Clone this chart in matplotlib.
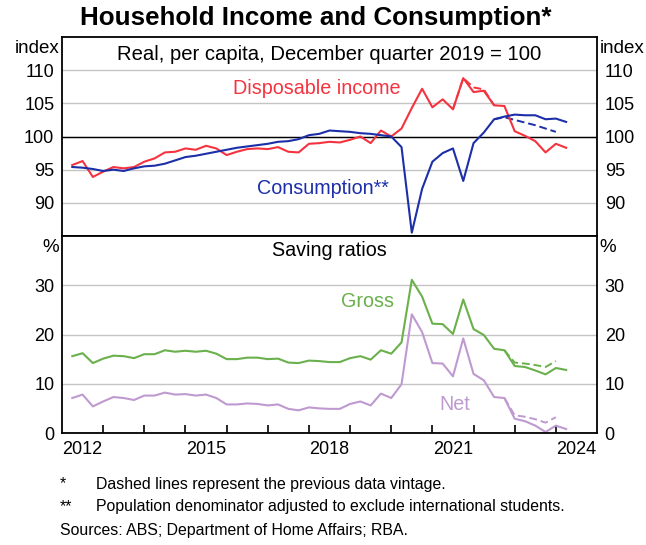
import numpy as np
import pandas as pd
import matplotlib
matplotlib.use("Agg")
import matplotlib.pyplot as plt

plt.rcParams['font.family'] = ['Liberation Sans', 'DejaVu Sans']

# quarterly data, March quarter 2012 to March quarter 2024
start_q = "2012Q1"
end_q = "2024Q1"

income = [95.7, 96.3, 93.9, 94.7, 95.4, 95.2, 95.4, 96.2, 96.7, 97.6, 97.7, 98.2,
          98.0, 98.6, 98.2, 97.2, 97.7, 98.1, 98.2, 98.1, 98.4, 97.7, 97.6, 98.9,
          99.0, 99.2, 99.1, 99.5, 100.0, 99.0, 100.9, 100.0, 101.2, 104.3, 107.2, 104.4,
          105.6, 104.1, 108.8, 106.7, 106.9, 104.7, 104.6, 100.8, 100.1, 99.3, 97.6, 98.9,
          98.3]
consumption = [95.4, 95.3, 95.1, 94.8, 95.0, 94.8, 95.2, 95.5, 95.6, 95.9, 96.4, 96.9,
               97.1, 97.4, 97.7, 98.0, 98.3, 98.5, 98.7, 98.9, 99.2, 99.3, 99.6, 100.2,
               100.4, 100.9, 100.8, 100.7, 100.5, 100.4, 100.2, 100.0, 98.4, 85.5, 92.1, 96.2,
               97.5, 98.2, 93.3, 99.0, 100.6, 102.6, 103.0, 103.3, 103.2, 103.2, 102.6, 102.7,
               102.2]
gross = [15.6, 16.2, 14.2, 15.1, 15.7, 15.6, 15.2, 16.0, 16.0, 16.8, 16.5, 16.7,
         16.5, 16.7, 16.1, 15.0, 15.0, 15.3, 15.3, 15.0, 15.1, 14.3, 14.2, 14.7,
         14.6, 14.4, 14.4, 15.2, 15.6, 14.9, 16.8, 16.1, 18.4, 31.1, 27.7, 22.2,
         22.1, 20.1, 27.1, 21.1, 19.9, 17.1, 16.8, 13.6, 13.4, 12.7, 11.9, 13.2,
         12.8]
net = [7.1, 7.8, 5.4, 6.4, 7.3, 7.1, 6.7, 7.6, 7.6, 8.2, 7.8, 7.9,
       7.6, 7.8, 7.1, 5.8, 5.8, 6.0, 5.9, 5.6, 5.8, 4.9, 4.6, 5.2,
       5.0, 4.9, 4.9, 5.9, 6.4, 5.6, 8.0, 7.1, 9.9, 24.1, 20.5, 14.2,
       14.1, 11.5, 19.2, 12.0, 10.7, 7.3, 7.1, 2.9, 2.4, 1.5, 0.2, 1.5,
       0.8]

# previous data vintage (dashed)
income_old_start = "2021Q2"
income_old = [104.1, 108.8, 107.4, 107.1, 104.7]
cons_old_start = "2022Q2"
cons_old = [102.6, 102.9, 102.5, 102.1, 101.7, 101.2, 100.7]
saving_old_start = "2022Q3"
gross_old = [16.8, 14.3, 14.1, 13.8, 13.4, 14.6]
net_old = [7.1, 3.6, 3.3, 2.8, 2.1, 3.2]

year_labels = ["2012", "2015", "2018", "2021", "2024"]

RED = "#f5333f"
BLUE = "#1c2fa8"
GREEN = "#6ab04c"
PURPLE = "#bf9ad0"
GRID = "#c4c4c4"


def qdates(first, n):
    # quarters plotted at the end of each quarter, as decimal years
    p = pd.period_range(first, periods=n, freq="Q")
    return p.year + p.quarter / 4.0


n = len(pd.period_range(start_q, end_q, freq="Q"))
x = qdates(start_q, n)

fig = plt.figure(figsize=(6.46, 5.45), dpi=100)
W, H = 646.0, 545.0
left, right = 62 / W, 597 / W
ax1 = fig.add_axes([left, (H - 236) / H, right - left, 199 / H])
ax2 = fig.add_axes([left, (H - 433) / H, right - left, 197 / H])

fs = 13
fs_txt = 14.2
for ax, lo, hi, ticks, unit in [(ax1, 85, 115, [90, 95, 100, 105, 110], "index"),
                                 (ax2, 0, 40, [0, 10, 20, 30], "%")]:
    ax.set_xlim(2012, 2025)
    ax.set_ylim(lo, hi)
    ax.set_yticks(ticks)
    ax.tick_params(axis="y", left=False, right=False, labelleft=True, labelright=True,
                   labelsize=fs, pad=2)
    ax.grid(axis="y", color=GRID, lw=1)
    ax.set_axisbelow(True)
    for s in ax.spines.values():
        s.set_linewidth(1.3)
    ax.text(-0.005, 0.985, unit, transform=ax.transAxes, ha="right", va="top", fontsize=fs + 0.5)
    ax.text(1.005, 0.985, unit, transform=ax.transAxes, ha="left", va="top", fontsize=fs + 0.5)

ax1.axhline(100, color="black", lw=1)
ax1.tick_params(axis="x", bottom=False, labelbottom=False)

ax1.plot(qdates(income_old_start, len(income_old)), income_old, color=RED, lw=1.4, ls=(0, (4, 2)))
ax1.plot(qdates(cons_old_start, len(cons_old)), cons_old, color=BLUE, lw=1.4, ls=(0, (4, 2)))
ax1.plot(x, income, color=RED, lw=1.5)
ax1.plot(x, consumption, color=BLUE, lw=1.5)

ax1.text(0.5, 0.913, "Real, per capita, December quarter 2019 = 100", transform=ax1.transAxes,
         ha="center", va="center", fontsize=14.6)
ax1.text(2018.2, 107.2, "Disposable income", color=RED, ha="center", va="center", fontsize=fs_txt)
ax1.text(2018.33, 92.2, "Consumption**", color=BLUE, ha="center", va="center", fontsize=fs_txt)

ax2.plot(qdates(saving_old_start, len(gross_old)), gross_old, color=GREEN, lw=1.4, ls=(0, (4, 2)))
ax2.plot(qdates(saving_old_start, len(net_old)), net_old, color=PURPLE, lw=1.4, ls=(0, (4, 2)))
ax2.plot(x, gross, color=GREEN, lw=1.5)
ax2.plot(x, net, color=PURPLE, lw=1.5)

ax2.text(0.5, 0.925, "Saving ratios", transform=ax2.transAxes, ha="center", va="center", fontsize=fs_txt)
ax2.text(2019.43, 26.6, "Gross", color=GREEN, ha="center", va="center", fontsize=fs_txt)
ax2.text(2021.54, 5.8, "Net", color=PURPLE, ha="center", va="center", fontsize=fs_txt)

years = np.arange(2013, 2025)
ax2.set_xticks(years)
ax2.set_xticklabels([])
ax2.set_xticks([int(y) + 0.5 for y in year_labels], minor=True)
ax2.set_xticklabels(year_labels, minor=True)
ax2.tick_params(axis="x", which="major", direction="in", length=6, width=1.2, color="black")
ax2.tick_params(axis="x", which="minor", length=0, labelsize=fs, pad=6)

fig.text(316 / W, 1 - 18 / H, "Household Income and Consumption*", ha="center", va="center",
         fontsize=18.7, fontweight="bold")

fn = 11.4
fig.text(60 / W, 1 - 484 / H, "*", ha="left", va="center", fontsize=fn)
fig.text(96 / W, 1 - 484 / H, "Dashed lines represent the previous data vintage.", ha="left",
         va="center", fontsize=fn)
fig.text(60 / W, 1 - 507 / H, "**", ha="left", va="center", fontsize=fn)
fig.text(96 / W, 1 - 507 / H, "Population denominator adjusted to exclude international students.",
         ha="left", va="center", fontsize=fn)
fig.text(60 / W, 1 - 530 / H, "Sources: ABS; Department of Home Affairs; RBA.", ha="left",
         va="center", fontsize=fn)

fig.savefig("out.png", dpi=100)
